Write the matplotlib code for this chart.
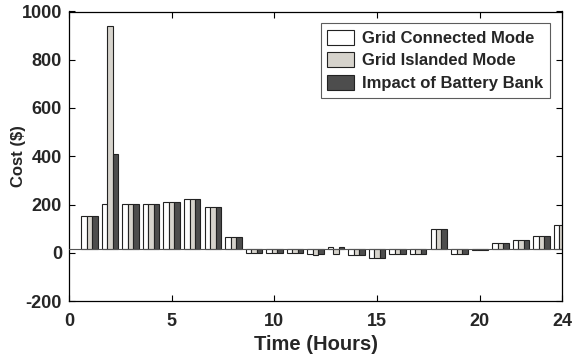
import numpy as np
import matplotlib
matplotlib.use('Agg')
import matplotlib.pyplot as plt

plt.rcParams['font.family'] = ['Liberation Sans', 'DejaVu Sans']
plt.rcParams['font.weight'] = 'bold'
plt.rcParams['axes.unicode_minus'] = False

hours = np.arange(1, 25)
grid_connected = [152, 202, 202, 203, 209, 221, 188, 65, 0, 0, 0, -5,
                  22, -10, -20, -5, -5, 100, -5, 10, 40, 52, 70, 115]
grid_islanded = [152, 940, 202, 203, 209, 221, 188, 65, 0, 0, 0, -10,
                 -5, -10, -20, -5, -5, 100, -5, 10, 40, 52, 70, 115]
battery_bank = [152, 408, 202, 203, 209, 221, 188, 65, 0, 0, 0, -5,
                22, -8, -20, -5, -5, 100, -5, 10, 40, 52, 70, 115]
labels = ['Grid Connected Mode', 'Grid Islanded Mode', 'Impact of Battery Bank']
colors = ['#ffffff', '#d6d3cc', '#4d4d4d']

base = 16  # baseline drawn slightly above zero in the original
txt = '#262626'

fig = plt.figure(figsize=(5.74, 3.61), dpi=100)
ax = fig.add_axes([69 / 574, 1 - 301 / 361, (562 - 69) / 574, (301 - 11.5) / 361])

w = 0.8 / 3
for i, (vals, c, lab) in enumerate(zip([grid_connected, grid_islanded, battery_bank], colors, labels)):
    vals = np.array(vals, dtype=float)
    ax.bar(hours + (i - 1) * w, vals - base, width=w, bottom=base, color=c,
           edgecolor='#222222', linewidth=0.8, label=lab)
ax.axhline(base, color='#555555', linewidth=0.8, zorder=3)

ax.set_xlim(0, 24)
ax.set_ylim(-200, 1000)
ax.set_xticks([0, 5, 10, 15, 20, 24])
ax.set_yticks(range(-200, 1001, 200))
ax.tick_params(axis='both', labelsize=13, direction='in', length=4, width=0.8,
               top=True, right=True, labelcolor=txt)
ax.tick_params(axis='x', pad=9)
ax.tick_params(axis='y', pad=5)
for s in ax.spines.values():
    s.set_linewidth(0.9)
ax.set_xlabel('Time (Hours)', fontsize=14.5, fontweight='bold', labelpad=3, color=txt)
ax.set_ylabel('Cost ($)', fontsize=12, fontweight='bold', color=txt)
ax.yaxis.set_label_coords(-0.088, 0.5)

leg = ax.legend(loc='upper right', bbox_to_anchor=(0.9757, 0.96), borderaxespad=0,
                fontsize=12, frameon=True, fancybox=False, edgecolor='#333333',
                handlelength=1.6, handleheight=1.0, borderpad=0.4, labelspacing=0.38,
                handletextpad=0.5)
leg.get_frame().set_linewidth(0.8)
for t in leg.get_texts():
    t.set_color(txt)

fig.savefig('out.png', dpi=100)
